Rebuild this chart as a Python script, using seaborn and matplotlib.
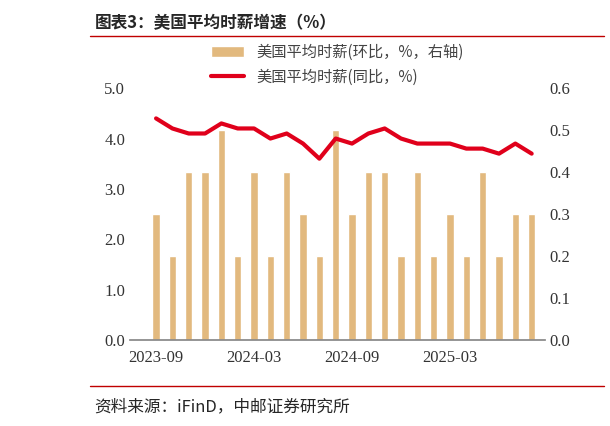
import matplotlib
matplotlib.use("Agg")
import matplotlib.pyplot as plt
import seaborn as sns
import pandas as pd
import numpy as np

months = ["2023-09","2023-10","2023-11","2023-12","2024-01","2024-02","2024-03","2024-04",
          "2024-05","2024-06","2024-07","2024-08","2024-09","2024-10","2024-11","2024-12",
          "2025-01","2025-02","2025-03","2025-04","2025-05","2025-06","2025-07","2025-08"]
mom = [0.3,0.2,0.4,0.4,0.5,0.2,0.4,0.2,0.4,0.3,0.2,0.5,0.3,0.4,0.4,0.2,0.4,0.2,0.3,0.2,0.4,0.2,0.3,0.3]
yoy = [4.4,4.2,4.1,4.1,4.3,4.2,4.2,4.0,4.1,3.9,3.6,4.0,3.9,4.1,4.2,4.0,3.9,3.9,3.9,3.8,3.8,3.7,3.9,3.7]
tick_labels = ["2023-09","2024-03","2024-09","2025-03"]

sns.set_theme(style="white")
plt.rcParams['font.family'] = ['Liberation Serif', 'Noto Sans CJK SC', 'DejaVu Sans']
cjk = ['Noto Sans CJK SC', 'DejaVu Sans']

df = pd.DataFrame({"month": months, "mom": mom, "yoy": yoy, "x": np.arange(len(months))})

fig = plt.figure(figsize=(6.1, 4.26), dpi=100)
ax = fig.add_axes([0.213, 0.202, 0.68, 0.591])
ax2 = ax.twinx()

sns.barplot(data=df, x="x", y="mom", ax=ax2, color="#E2B97E", width=0.45,
            saturation=1, label="美国平均时薪(环比，%，右轴)", native_scale=True)
sns.lineplot(data=df, x="x", y="yoy", ax=ax, color="#E0001B", linewidth=3,
             label="美国平均时薪(同比，%)")
ax.set_zorder(ax2.get_zorder() + 1)
ax.patch.set_visible(False)

ax.set_ylim(0, 5)
ax.set_yticks(np.arange(0, 5.1, 1.0))
ax.set_yticklabels([f"{v:.1f}" for v in np.arange(0, 5.1, 1.0)])
ax2.set_ylim(0, 0.6)
ax2.set_yticks(np.arange(0, 0.61, 0.1))
ax2.set_yticklabels([f"{v:.1f}" for v in np.arange(0, 0.61, 0.1)])
ax.set_xlim(-1.6, 23.8)
ax.set_xticks([months.index(t) for t in tick_labels])
ax.set_xticklabels(tick_labels)
for a in (ax, ax2):
    a.set_xlabel(""); a.set_ylabel("")
    a.tick_params(labelsize=12, colors="#333333", length=0)
    for s in a.spines.values():
        s.set_visible(False)
ax.spines['bottom'].set_visible(True)
ax.spines['bottom'].set_color("#888888")
ax.tick_params(axis='x', length=4, direction='out', colors="#333333")

h1, l1 = ax2.get_legend_handles_labels()
h2, l2 = ax.get_legend_handles_labels()
if ax2.get_legend(): ax2.get_legend().remove()
ax.legend(h1 + h2, l1 + l2, loc="upper center", bbox_to_anchor=(0.5, 1.2),
          frameon=False, prop={'family': cjk, 'size': 11}, labelcolor="#444444",
          handlelength=2.2, borderaxespad=0)

fig.text(0.155, 0.945, "图表3：美国平均时薪增速（%）", family=cjk, fontsize=12,
         fontweight='bold', va='center')
fig.add_artist(plt.Line2D([0.148, 0.99], [0.915, 0.915], color="#C00000", lw=1))
fig.add_artist(plt.Line2D([0.148, 0.99], [0.095, 0.095], color="#C00000", lw=1))
fig.text(0.155, 0.045, "资料来源：iFinD，中邮证券研究所", family=cjk, fontsize=12, va='center')

fig.savefig("out.png", dpi=100)
